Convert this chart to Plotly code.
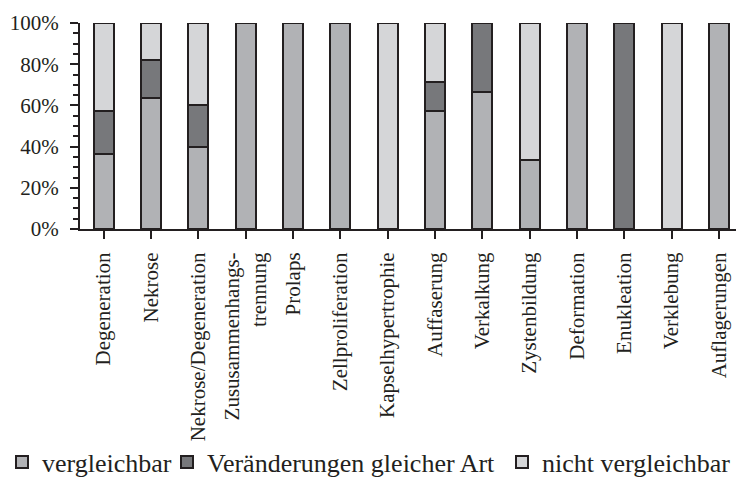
import plotly.graph_objects as go

# Kategorien der Veränderungen
kategorien = [
    "Degeneration", "Nekrose", "Nekrose/Degeneration", "Zususammenhangs-<br>trennung",
    "Prolaps", "Zellproliferation", "Kapselhypertrophie", "Auffaserung",
    "Verkalkung", "Zystenbildung", "Deformation", "Enukleation",
    "Verklebung", "Auflagerungen",
]

# Anteile in Prozent
vergleichbar = [36.4, 63.6, 40.0, 100, 100, 100, 0, 57.1, 66.7, 33.3, 100, 0, 0, 100]
gleiche_art = [20.7, 18.2, 20.0, 0, 0, 0, 0, 14.3, 33.3, 0, 0, 100, 0, 0]
nicht_vergleichbar = [42.9, 18.2, 40.0, 0, 0, 0, 100, 28.6, 0, 66.7, 0, 0, 100, 0]

y_ticks = [0, 20, 40, 60, 80, 100]
y_labels = [f"{v}%" for v in y_ticks]

INK = "#231f20"
FONT = "Liberation Serif, Times New Roman, serif"
W, H = 736, 477

# name, werte, farbe, legende, linker Rand der Legende (px)
serien = [
    ("vergleichbar", vergleichbar, "#b1b2b5", "legend", 2),
    ("Veränderungen gleicher Art", gleiche_art, "#77787b", "legend2", 167),
    ("nicht vergleichbar", nicht_vergleichbar, "#d5d6d8", "legend3", 502),
]

fig = go.Figure()
x_pos = list(range(len(kategorien)))
legend_layout = {}
for name, werte, farbe, leg, lx in serien:
    fig.add_trace(go.Bar(
        x=x_pos, y=werte, name=name,
        marker=dict(color=farbe, line=dict(color=INK, width=2)),
        width=0.42,
        legend=leg,
    ))
    legend_layout[leg] = dict(
        orientation="h",
        xref="container", yref="container",
        x=lx / W, xanchor="left",
        y=(H - 462) / H, yanchor="middle",
        font=dict(family=FONT, size=26, color=INK),
        bgcolor="rgba(0,0,0,0)",
    )

fig.update_layout(
    barmode="stack",
    width=W, height=H,
    margin=dict(l=80, r=0, t=23, b=248, autoexpand=False),
    paper_bgcolor="white", plot_bgcolor="white",
    font=dict(family=FONT, size=21, color=INK),
    showlegend=True,
    **legend_layout,
)

fig.update_xaxes(
    range=[-0.5, 13.36],
    tickmode="array", tickvals=x_pos, ticktext=kategorien,
    tickangle=-90,
    tickson="boundaries",
    ticks="outside", ticklen=8, tickwidth=2, tickcolor=INK,
    showline=True, linewidth=2, linecolor=INK,
    showgrid=False, zeroline=False,
    tickfont=dict(family=FONT, size=21, color=INK),
    ticklabelstandoff=5,
)

fig.update_yaxes(
    range=[0, 100],
    tickmode="array", tickvals=y_ticks, ticktext=y_labels,
    ticks="outside", ticklen=8, tickwidth=2, tickcolor=INK,
    minor=dict(dtick=5, ticks="outside", ticklen=5, tickwidth=2, tickcolor=INK),
    showline=True, linewidth=2, linecolor=INK,
    showgrid=False, zeroline=False,
    tickfont=dict(family=FONT, size=21, color=INK),
    ticklabelstandoff=7,
)

fig.write_html("out.html")
